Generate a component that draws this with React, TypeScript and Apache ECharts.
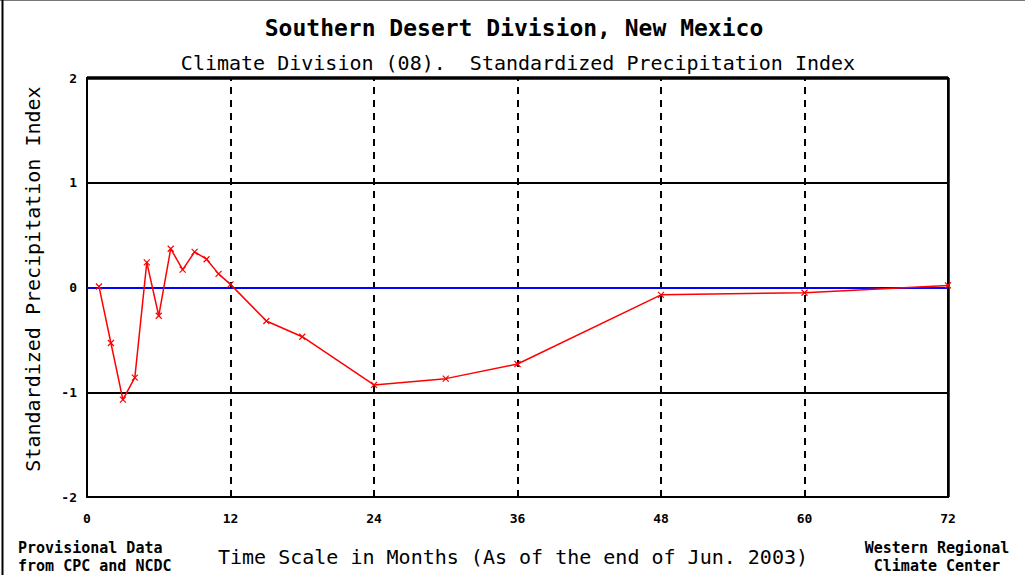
import React, { useEffect, useRef } from "react";
import * as echarts from "echarts";

const months = [1, 2, 3, 4, 5, 6, 7, 8, 9, 10, 11, 12, 15, 18, 24, 30, 36, 48, 60, 72];
const spiValues = [0.01, -0.53, -1.07, -0.86, 0.24, -0.27, 0.37, 0.17, 0.34, 0.27, 0.13, 0.03, -0.32, -0.47, -0.93, -0.87, -0.73, -0.07, -0.05, 0.02];
const dashedMonths = [12, 24, 36, 48, 60];
const solidLevels = [1, -1];
const zeroLevel = 0;

const titleText = "Southern Desert Division, New Mexico";
const subtitleText = "Climate Division (08).  Standardized Precipitation Index";
const xAxisName = "Time Scale in Months (As of the end of Jun. 2003)";
const yAxisName = "Standardized Precipitation Index";
const footerLeft = ["Provisional Data", "from CPC and NCDC"];
const footerRight = ["Western Regional", "Climate Center"];

const MONO = "'DejaVu Sans Mono', 'Liberation Mono', monospace";

export default function App() {
  const ref = useRef<HTMLDivElement>(null);
  useEffect(() => {
    if (!ref.current) return;
    const chart = echarts.init(ref.current, null, { renderer: "svg" });
    const data = months.map((m, i) => [m, spiValues[i]]);
    chart.setOption({
      animation: false,
      backgroundColor: "#ffffff",
      grid: {
        left: 87,
        right: 77,
        top: 78,
        bottom: 78,
        show: true,
        borderColor: "#000",
        borderWidth: 2,
        backgroundColor: "transparent",
      },
      xAxis: {
        type: "value",
        min: 0,
        max: 72,
        interval: 12,
        axisLine: { show: true, lineStyle: { color: "#000", width: 2 } },
        axisTick: { show: false },
        splitLine: { show: false },
        axisLabel: { color: "#000", fontFamily: MONO, fontWeight: "bold", fontSize: 13, margin: 15 },
      },
      yAxis: {
        type: "value",
        min: -2,
        max: 2,
        interval: 1,
        axisLine: { show: true, lineStyle: { color: "#000", width: 2 } },
        axisTick: { show: false },
        splitLine: { show: false },
        axisLabel: { color: "#000", fontFamily: MONO, fontWeight: "bold", fontSize: 13, margin: 10 },
      },
      graphic: [
        { type: "line", shape: { x1: 0, y1: 0.5, x2: 1025, y2: 0.5 }, style: { stroke: "#777", lineWidth: 1 } },
        { type: "line", shape: { x1: 2.5, y1: 0, x2: 2.5, y2: 575 }, style: { stroke: "#000", lineWidth: 2 } },
        { type: "text", x: 514, y: 28, style: { text: titleText, font: `bold 23px ${MONO}`, fill: "#000", textAlign: "center", textVerticalAlign: "middle" } },
        { type: "text", x: 518, y: 63, style: { text: subtitleText, font: `20px ${MONO}`, fill: "#000", textAlign: "center", textVerticalAlign: "middle" } },
        { type: "text", x: 513, y: 557, style: { text: xAxisName, font: `20px ${MONO}`, fill: "#000", textAlign: "center", textVerticalAlign: "middle" } },
        { type: "text", x: 33, y: 279, rotation: Math.PI / 2, style: { text: yAxisName, font: `20px ${MONO}`, fill: "#000", textAlign: "center", textVerticalAlign: "middle" } },
        { type: "text", x: 18, y: 548, style: { text: footerLeft[0], font: `bold 15px ${MONO}`, fill: "#000", textAlign: "left", textVerticalAlign: "middle" } },
        { type: "text", x: 18, y: 566, style: { text: footerLeft[1], font: `bold 15px ${MONO}`, fill: "#000", textAlign: "left", textVerticalAlign: "middle" } },
        { type: "text", x: 937, y: 548, style: { text: footerRight[0], font: `bold 15px ${MONO}`, fill: "#000", textAlign: "center", textVerticalAlign: "middle" } },
        { type: "text", x: 937, y: 566, style: { text: footerRight[1], font: `bold 15px ${MONO}`, fill: "#000", textAlign: "center", textVerticalAlign: "middle" } },
      ],
      series: [
        {
          type: "line",
          data: [],
          silent: true,
          markLine: {
            silent: true,
            symbol: "none",
            label: { show: false },
            animation: false,
            data: [
              ...solidLevels.map((v) => ({ yAxis: v, lineStyle: { color: "#000", width: 2, type: "solid" } })),
              ...dashedMonths.map((m) => ({ xAxis: m, lineStyle: { color: "#000", width: 2, type: [7, 6] } })),
              { yAxis: 2, lineStyle: { color: "#000", width: 3.5, type: "solid" } },
              { xAxis: 72, lineStyle: { color: "#000", width: 2.5, type: "solid" } },
              { yAxis: zeroLevel, lineStyle: { color: "#0000ff", width: 2, type: "solid" } },
            ],
          },
        },
        {
          type: "line",
          data,
          z: 5,
          symbol: "path://M0,0L10,10M10,0L0,10",
          symbolSize: 6,
          showAllSymbol: true,
          lineStyle: { color: "#ff0000", width: 1.5 },
          itemStyle: { color: "none", borderColor: "#ff0000", borderWidth: 1.2 },
        },
      ],
    });
    return () => chart.dispose();
  }, []);
  return <div ref={ref} style={{ position: "fixed", left: 0, top: 0, width: 1025, height: 575 }} />;
}
